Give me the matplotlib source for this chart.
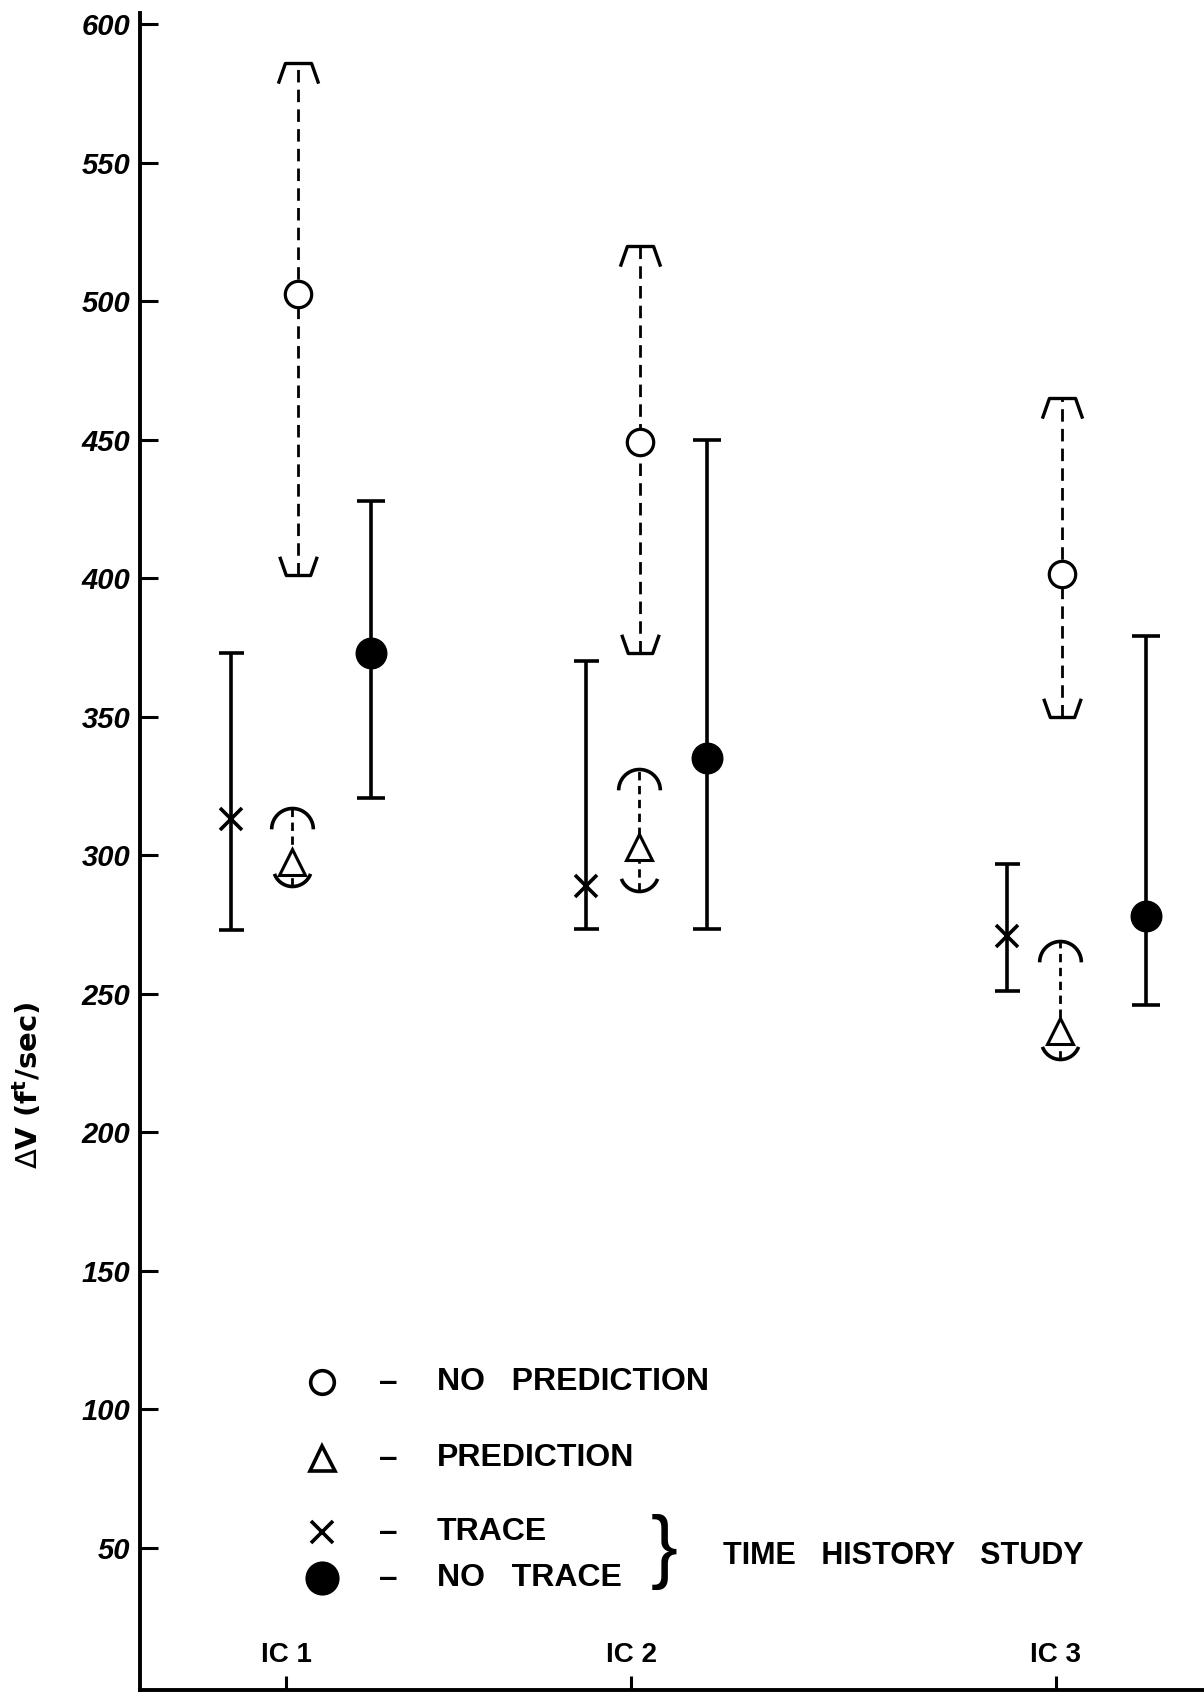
import numpy as np
import matplotlib.pyplot as plt
from matplotlib.path import Path

# Yazi tipi: el yazisina yakin, dar harfli bir sans
LABEL_FONT = 'Liberation Sans'

# --- Veri ---
conditions = ["IC 1", "IC 2", "IC 3"]
condition_x = [1.46, 4.91, 9.16]

# O - no prediction (dashed range)
nopred_x = [1.58, 5.00, 9.22]
nopred_mid = [502.5, 449, 401.5]
nopred_hi = [586, 520, 465]
nopred_lo = [401, 373, 350]

# triangle - prediction (dashed range)
pred_x = [1.52, 4.99, 9.20]
pred_mid = [297.5, 303, 236.5]
pred_hi = [317, 331, 269]
pred_lo = [289, 287, 226.5]

# x - trace (time history study)
trace_x = [0.91, 4.46, 8.67]
trace_mid = [313, 289, 271]
trace_hi = [373, 370, 297]
trace_lo = [273, 273.5, 251]

# filled circle - no trace (time history study)
notrace_x = [2.31, 5.67, 10.06]
notrace_mid = [373, 335, 278]
notrace_hi = [428, 450, 379]
notrace_lo = [320.5, 273.5, 246]

y_ticks = [50, 100, 150, 200, 250, 300, 350, 400, 450, 500, 550, 600]

# --- Ozel isaretler (kesikli araliklarin uc kapaklari) ---
cap_top = Path([(-1.0, -1.0), (-0.65, 0.0), (0.65, 0.0), (1.0, -1.0)])
cap_bot = Path([(-1.0, 1.0), (-0.65, 0.0), (0.65, 0.0), (1.0, 1.0)])
t = np.linspace(0, np.pi, 40)
arc_top = Path(np.column_stack([np.cos(t), np.sin(t) - 1.0]))
t2 = np.linspace(np.pi + 0.35, 2 * np.pi - 0.35, 40)
arc_bot = Path(np.column_stack([np.cos(t2), np.sin(t2) + 1.0]))

fig = plt.figure(figsize=(12.04, 16.95), dpi=100)
ax = fig.add_axes([140 / 1204, 5 / 1695, 1064 / 1204, 1677 / 1695])


def fig_xy(px, py):
    return px / 1204, 1 - py / 1695


LW = 2.6

# No prediction: dashed line + caps + open circle
for x, m, hi, lo in zip(nopred_x, nopred_mid, nopred_hi, nopred_lo):
    ax.plot([x, x], [lo, hi], color='black', lw=2.0, dashes=[4.5, 2.6], zorder=2)
    ax.plot(x, hi, marker=cap_top, ms=29, mfc='none', mec='black', mew=2.4, zorder=3)
    ax.plot(x, lo, marker=cap_bot, ms=27, mfc='none', mec='black', mew=2.4, zorder=3)
    ax.plot(x, m, marker='o', ms=19, mfc='white', mec='black', mew=2.3, zorder=4)

# Prediction: dashed line + arcs + open triangle
for x, m, hi, lo in zip(pred_x, pred_mid, pred_hi, pred_lo):
    ax.plot([x, x], [lo, hi], color='black', lw=2.0, dashes=[3.0, 2.0], zorder=2)
    ax.plot(x, hi, marker=arc_top, ms=30, mfc='none', mec='black', mew=2.6, zorder=3)
    ax.plot(x, lo, marker=arc_bot, ms=26, mfc='none', mec='black', mew=2.6, zorder=3)
    ax.plot(x, m, marker='^', ms=19, mfc='white', mec='black', mew=2.2, zorder=4)

# Trace and no trace: solid error bars
yerr_trace = [np.subtract(trace_mid, trace_lo), np.subtract(trace_hi, trace_mid)]
ax.errorbar(trace_x, trace_mid, yerr=yerr_trace, fmt='x', color='black', ms=16, mew=2.6,
            elinewidth=LW, capsize=9, capthick=LW, zorder=3)
yerr_notrace = [np.subtract(notrace_mid, notrace_lo), np.subtract(notrace_hi, notrace_mid)]
ax.errorbar(notrace_x, notrace_mid, yerr=yerr_notrace, fmt='o', color='black', ms=22,
            elinewidth=LW, capsize=10, capthick=LW, zorder=3)

# Eksenler
ax.set_xlim(0, 10.64)
ax.set_ylim(-1.3, 604)
for side in ['top', 'right']:
    ax.spines[side].set_visible(False)
for side in ['left', 'bottom']:
    ax.spines[side].set_linewidth(2.8)

ax.set_yticks(y_ticks)
ax.set_yticklabels([str(v) for v in y_ticks])
ax.tick_params(axis='y', direction='in', length=13, width=2.2, pad=7)
for lab in ax.get_yticklabels():
    lab.set_family(LABEL_FONT)
    lab.set_style('italic')
    lab.set_weight('bold')
    lab.set_size(21)

ax.set_xticks(condition_x)
ax.set_xticklabels([''] * len(condition_x))
ax.tick_params(axis='x', direction='in', length=10, width=2.2)
for x, name in zip(condition_x, conditions):
    ax.text(x, 0.021, name, transform=ax.get_xaxis_transform(), ha='center', va='center',
            family=LABEL_FONT, weight='bold', size=20)

fig.text(28 / 1204, 1 - 1085 / 1695, r'$\Delta$V (f$^{\mathbf{t}}$/sec)', rotation=90,
         ha='center', va='center', weight='bold', size=21)

# Aciklama (el ile cizilmis legend)
legend_rows = [
    ('o', 'white', 17, 1382, 'NO   PREDICTION'),
    ('^', 'white', 18, 1458, 'PREDICTION'),
    ('x', 'black', 16, 1532, 'TRACE'),
    ('o', 'black', 22, 1578, 'NO   TRACE'),
]
for mk, fc, ms, py, label in legend_rows:
    fx, fy = fig_xy(322, py)
    ax.plot([fx], [fy], marker=mk, ms=ms, mfc=fc, mec='black', mew=2.6, color='black',
            transform=fig.transFigure, clip_on=False, zorder=5)
    fx, fy = fig_xy(388, py)
    fig.text(fx, fy, '\u2013', ha='center', va='center', family=LABEL_FONT, weight='bold', size=24)
    fx, fy = fig_xy(437, py)
    fig.text(fx, fy, label, ha='left', va='center', family=LABEL_FONT, weight='bold', size=23)

fx, fy = fig_xy(664, 1552)
fig.text(fx, fy, '}', ha='center', va='center', family=LABEL_FONT, size=58)
fx, fy = fig_xy(723, 1556)
fig.text(fx, fy, 'TIME   HISTORY   STUDY', ha='left', va='center', family=LABEL_FONT,
         weight='bold', size=22)

plt.savefig('out.png', dpi=100)
